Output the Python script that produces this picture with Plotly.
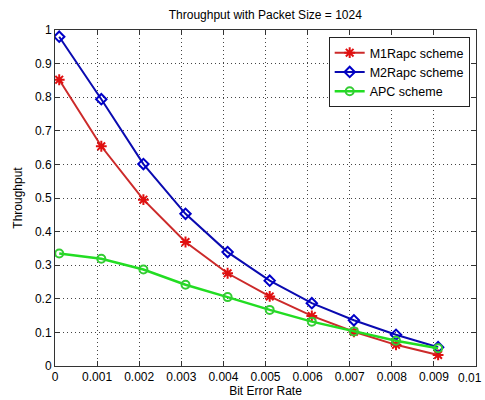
import plotly.graph_objects as go

ber = [0.0001, 0.0011, 0.0021, 0.0031, 0.0041, 0.0051, 0.0061, 0.0071, 0.0081, 0.0091]
m1rapc = [0.852, 0.654, 0.495, 0.369, 0.276, 0.207, 0.149, 0.102, 0.063, 0.033]
m2rapc = [0.980, 0.794, 0.601, 0.453, 0.339, 0.254, 0.187, 0.136, 0.093, 0.056]
apc = [0.335, 0.319, 0.287, 0.242, 0.205, 0.167, 0.132, 0.103, 0.075, 0.053]

x_ticks = [0, 0.001, 0.002, 0.003, 0.004, 0.005, 0.006, 0.007, 0.008, 0.009, 0.01]
x_labels = ["0", "0.001", "0.002", "0.003", "0.004", "0.005", "0.006", "0.007", "0.008", "0.009", "0.01"]
y_ticks = [0, 0.1, 0.2, 0.3, 0.4, 0.5, 0.6, 0.7, 0.8, 0.9, 1]
y_labels = ["0", "0.1", "0.2", "0.3", "0.4", "0.5", "0.6", "0.7", "0.8", "0.9", "1"]

fig = go.Figure()
fig.add_trace(go.Scatter(
    x=ber, y=m1rapc, mode="lines+markers", name="M1Rapc scheme",
    line=dict(color="#cc2a2a", width=2),
    marker=dict(symbol="asterisk-open", size=9, color="#e01010",
                line=dict(color="#e01010", width=2)),
))
fig.add_trace(go.Scatter(
    x=ber, y=m2rapc, mode="lines+markers", name="M2Rapc scheme",
    line=dict(color="#0a0ab0", width=2),
    marker=dict(symbol="diamond-open", size=8, color="#0000c8",
                line=dict(color="#0000c8", width=2)),
))
fig.add_trace(go.Scatter(
    x=ber, y=apc, mode="lines+markers", name="APC scheme",
    line=dict(color="#22dd22", width=2.5),
    marker=dict(symbol="circle-open", size=8, color="#33cc33",
                line=dict(color="#33cc33", width=2)),
))

axis_common = dict(
    showline=True, linecolor="#333333", linewidth=1, mirror="ticks",
    ticks="inside", ticklen=5, tickcolor="#333333",
    showgrid=True, gridcolor="#444444", griddash="1px,3px", gridwidth=1,
    zeroline=False, tickfont=dict(size=12, color="black"), automargin=False,
    ticklabeloverflow="allow",
)

# last x tick label is drawn as an annotation nudged left so it stays inside the window
shown_x_labels = x_labels[:-1] + [""]

fig.update_layout(
    width=485, height=400,
    paper_bgcolor="white", plot_bgcolor="white",
    font=dict(family="Liberation Sans, Arial, sans-serif", size=12, color="black"),
    margin=dict(l=55, r=9, t=30, b=34),
    title=dict(text="Throughput with Packet Size = 1024", x=0.547, xanchor="center",
               y=0.962, yanchor="middle", font=dict(size=12)),
    xaxis=dict(range=[0, 0.0100001], tickvals=x_ticks, ticktext=shown_x_labels,
               title=dict(text="Bit Error Rate", standoff=2, font=dict(size=12)),
               **axis_common),
    yaxis=dict(range=[0, 1.0000001], tickvals=y_ticks, ticktext=y_labels,
               title=dict(text="Throughput", standoff=9, font=dict(size=12)),
               **axis_common),
    legend=dict(x=0.985, y=0.979, xanchor="right", yanchor="top",
                bgcolor="white", bordercolor="#222222", borderwidth=1,
                font=dict(size=12.5), tracegroupgap=0, itemwidth=30),
    showlegend=True,
    annotations=[dict(text=x_labels[-1], x=x_ticks[-1], xref="x", y=0, yref="paper",
                      xanchor="right", yanchor="top", xshift=8, yshift=-3,
                      showarrow=False, font=dict(size=12, color="black"))],
)

fig.write_html("out.html", config={"displayModeBar": False},
               post_script="document.body.style.margin='0';document.body.style.padding='0';")
